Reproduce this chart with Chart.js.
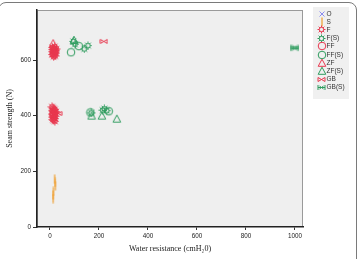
<!DOCTYPE html>
<html><head><meta charset="utf-8">
<script src="https://cdn.jsdelivr.net/npm/chart.js@4"></script>
<style>
html,body{margin:0;padding:0;background:#fff;}
#wrap{position:relative;width:358px;height:259px;overflow:hidden;}
#frame{position:absolute;left:-2px;top:2px;width:357px;height:275px;border:1px solid #7a7a7a;border-radius:8px;pointer-events:none;}
</style></head><body>
<div id="wrap"><canvas id="c" width="358" height="259"></canvas><div id="frame"></div></div>
<script>
// ---- data ----
const seriesNames = ['O','S','F','F(S)','FF','FF(S)','ZF','ZF(S)','GB','GB(S)'];
const xTicks = [0,200,400,600,800,1000];
const yTicks = [0,200,400,600];

const oX = [];
const oY = [];
const sX = [19,21,22,14,13,13];
const sY = [172,160,148,128,115,102];
const fX = [10,14,18,22,12,16,20,24,9,13,17,21,15,19,11,23,26,
            8,12,16,20,10,14,18,22,9,13,17,21,11,15,19,12,16,20,14,18,24];
const fY = [645,640,642,636,630,632,628,625,620,622,618,615,612,648,638,633,640,
            432,428,425,422,418,415,412,410,406,403,400,398,395,392,390,386,383,380,420,408,415];
const fsX = [95,102,140,155,168,215,222,232];
const fsY = [667,657,640,652,410,420,425,418];
const ffX = [16,14];
const ffY = [627,404];
const ffsX = [86,118,165,240];
const ffsY = [628,650,412,416];
const zfX = [13];
const zfY = [660];
const zfsX = [98,170,212,273];
const zfsY = [672,400,400,389];
const gbX = [220,33];
const gbY = [667,408];
const gbsX = [1000,1000];
const gbsY = [647,641];

// ---- markers ----
const RED='#e8384f', GREEN='#2e9c5e', BLUE='#8c8cf0', ORANGE='#f0a53c';
function mk(size, color, draw){
  const c=document.createElement('canvas'); c.width=size; c.height=size;
  const g=c.getContext('2d'); g.strokeStyle=color; g.fillStyle=color; g.lineWidth=1;
  draw(g, size/2); return c;
}
const crossM = mk(8, BLUE, (g,h)=>{g.beginPath();g.moveTo(1.5,1.5);g.lineTo(6.5,6.5);g.moveTo(1.5,6.5);g.lineTo(6.5,1.5);g.stroke();});
const lineM = mk(10, ORANGE, (g,h)=>{g.lineWidth=1.3;g.beginPath();g.moveTo(h,0.5);g.lineTo(h,9.5);g.stroke();});
function gear(color){return mk(9,color,(g,h)=>{g.beginPath();g.arc(h,h,2.2,0,Math.PI*2);g.stroke();
  g.beginPath();for(let i=0;i<8;i++){const a=i*Math.PI/4;g.moveTo(h+2.2*Math.cos(a),h+2.2*Math.sin(a));g.lineTo(h+4*Math.cos(a),h+4*Math.sin(a));}g.stroke();});}
function circ(color){return mk(10,color,(g,h)=>{g.beginPath();g.arc(h,h,3.8,0,Math.PI*2);g.stroke();});}
function tri(color){return mk(10,color,(g,h)=>{g.beginPath();g.moveTo(h,1.2);g.lineTo(1.2,8.3);g.lineTo(8.8,8.3);g.closePath();g.stroke();});}
function bow(color){return mk(9,color,(g,h)=>{g.beginPath();g.moveTo(1,2.5);g.lineTo(8,6.5);g.lineTo(8,2.5);g.lineTo(1,6.5);g.closePath();g.stroke();});}
function hbar(color){return mk(9,color,(g,h)=>{g.beginPath();g.moveTo(1,2);g.lineTo(1,7);g.moveTo(8,2);g.lineTo(8,7);g.moveTo(1,4.5);g.lineTo(8,4.5);
  g.moveTo(2.5,3);g.lineTo(6.5,6);g.moveTo(2.5,6);g.lineTo(6.5,3);g.stroke();});}

const styles=[crossM,lineM,gear(RED),gear(GREEN),circ(RED),circ(GREEN),tri(RED),tri(GREEN),bow(RED),hbar(GREEN)];
const xs=[oX,sX,fX,fsX,ffX,ffsX,zfX,zfsX,gbX,gbsX];
const ys=[oY,sY,fY,fsY,ffY,ffsY,zfY,zfsY,gbY,gbsY];

const datasets = seriesNames.map((n,i)=>({
  label:n,
  data: xs[i].map((x,j)=>({x:x,y:ys[i][j]})),
  pointStyle: styles[i],
  pointRadius: 4,
  showLine:false
}));

const bgPlugin={id:'bg',beforeDraw(chart){const {ctx,chartArea:a}=chart;ctx.save();ctx.fillStyle='#efefef';ctx.fillRect(a.left,a.top,a.right-a.left,a.bottom-a.top);
  ctx.strokeStyle='#9a9a9a';ctx.lineWidth=1;ctx.strokeRect(a.left+0.5,a.top+0.5,a.right-a.left-1,a.bottom-a.top-1);ctx.restore();}};
const legendPlugin={id:'leg',afterDraw(chart){const ctx=chart.ctx;ctx.save();
  ctx.fillStyle='#f0f0f0';ctx.fillRect(313,7,36,92);
  ctx.font='6.5px "Liberation Sans", Arial, sans-serif';ctx.fillStyle='#333';ctx.textBaseline='middle';ctx.textAlign='left';
  seriesNames.forEach((n,i)=>{const y=13.5+i*8.2;const im=styles[i];
    ctx.drawImage(im,Math.round(321.5-im.width/2),Math.round(y-im.height/2));
    ctx.fillStyle='#333';ctx.fillText(n,326.5,y+0.3);});
  ctx.restore();}};

new Chart(document.getElementById('c'),{
  type:'scatter',
  data:{datasets},
  plugins:[bgPlugin,legendPlugin],
  options:{
    responsive:false,animation:false,
    layout:{padding:{top:10,right:55,left:0,bottom:0}},
    plugins:{legend:{display:false},tooltip:{enabled:false}},
    scales:{
      x:{type:'linear',min:-53,max:1033,
        afterBuildTicks:s=>{s.ticks=xTicks.map(v=>({value:v}));},
        afterFit:s=>{s.height=32;},
        ticks:{font:{size:6.3,family:'"Liberation Sans", Arial'},color:'#222',padding:2,maxRotation:0,callback:v=>String(v)},
        grid:{drawOnChartArea:false,drawTicks:true,tickLength:3,color:'#333'},
        border:{display:true,color:'#222',width:1.5},
        title:{display:true,text:'Water resistance (cmH₂0)',font:{family:'"Liberation Serif", serif',size:8},color:'#222',padding:{top:2,bottom:5.5}}
      },
      y:{type:'linear',min:0,max:780,
        afterBuildTicks:s=>{s.ticks=yTicks.map(v=>({value:v}));},
        afterFit:s=>{s.width=37;},
        ticks:{font:{size:6.3,family:'"Liberation Sans", Arial'},color:'#222',padding:2,callback:v=>String(v)},
        grid:{drawOnChartArea:false,drawTicks:true,tickLength:4,color:'#333'},
        border:{display:true,color:'#222',width:1.5},
        title:{display:true,text:'Seam strength (N)',font:{family:'"Liberation Serif", serif',size:8},color:'#222',padding:{top:5.5,bottom:2}}
      }
    }
  }
});
</script>
</body></html>
